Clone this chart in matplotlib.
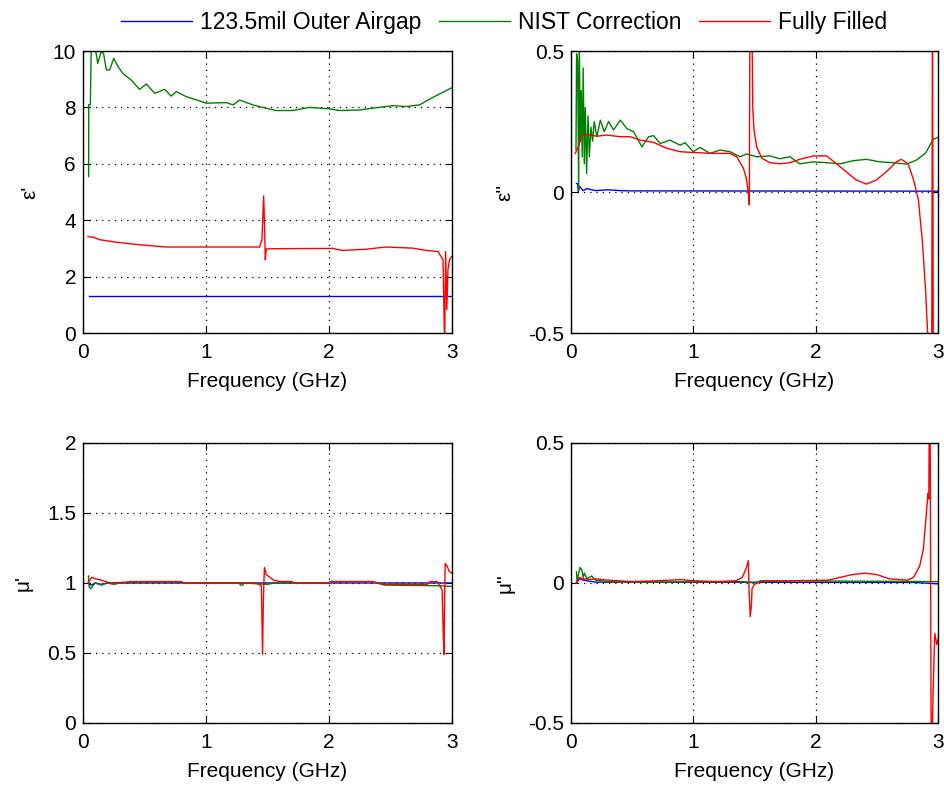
import numpy as np
import matplotlib.pyplot as plt

plt.rcParams['font.family'] = ['Liberation Sans', 'DejaVu Sans']
plt.rcParams['font.size'] = 15

# Labels
LEGEND_LABELS = ["123.5mil Outer Airgap", "NIST Correction", "Fully Filled"]
COLORS = ["#0000ff", "#008000", "#ff0000"]

# eps' (real permittivity)
ep_blue_f = [0.045, 3.0]
ep_blue_v = [1.32, 1.32]

ep_green_f = [0.046, 0.047, 0.06, 0.068, 0.108, 0.12, 0.15, 0.168, 0.19, 0.217,
              0.25, 0.285, 0.325, 0.393, 0.46, 0.515, 0.583, 0.664, 0.718, 0.759,
              0.84, 0.948, 1.0, 1.165, 1.22, 1.274, 1.38, 1.49, 1.57, 1.707,
              1.84, 2.005, 2.087, 2.25, 2.385, 2.52, 2.63, 2.737, 2.846, 3.0]
ep_green_v = [5.55, 8.1, 8.1, 10.4, 9.9, 9.56, 10.0, 9.9, 9.33, 9.33,
              9.74, 9.45, 9.2, 8.97, 8.64, 8.83, 8.5, 8.64, 8.4, 8.56,
              8.38, 8.23, 8.15, 8.17, 8.09, 8.26, 8.09, 7.97, 7.89, 7.89,
              8.0, 7.95, 7.89, 7.91, 7.99, 8.06, 8.03, 8.09, 8.36, 8.7]

ep_red_f = [0.04, 0.08, 0.136, 0.27, 0.46, 0.678, 0.95, 1.436, 1.455, 1.469,
            1.477, 1.482, 1.49, 1.545, 2.03, 2.11, 2.3, 2.46, 2.68, 2.79,
            2.886, 2.927, 2.94, 2.948, 2.958, 2.967, 2.98, 3.0]
ep_red_v = [3.42, 3.4, 3.31, 3.22, 3.13, 3.05, 3.05, 3.05, 3.31, 4.86,
            3.66, 2.6, 2.98, 2.99, 3.0, 2.93, 2.97, 3.05, 3.01, 2.93,
            2.89, 2.6, -0.5, 2.89, 0.83, 2.24, 2.6, 2.72]

# eps'' (imaginary permittivity)
epp_blue_f = [0.045, 0.055, 0.06, 0.07, 0.1, 0.13, 0.2, 0.3, 0.4, 0.5, 3.0]
epp_blue_v = [0.03, 0.03, 0.0, 0.02, 0.005, 0.012, 0.005, 0.008, 0.005, 0.004, 0.003]

epp_green_f = [0.041, 0.046, 0.054, 0.063, 0.068, 0.076, 0.084, 0.092, 0.1, 0.109,
               0.117, 0.128, 0.139, 0.15, 0.163, 0.177, 0.19, 0.212, 0.24, 0.272,
               0.307, 0.348, 0.403, 0.457, 0.511, 0.58, 0.634, 0.675, 0.729, 0.81,
               0.892, 0.933, 1.0, 1.055, 1.137, 1.218, 1.3, 1.382, 1.436, 1.518,
               1.627, 1.708, 1.79, 1.87, 1.98, 2.09, 2.2, 2.306, 2.415, 2.524,
               2.633, 2.742, 2.823, 2.9, 2.96, 3.0]
epp_green_v = [0.15, 0.49, 0.47, 0.007, 0.55, 0.18, 0.36, 0.125, 0.44, 0.10,
               0.30, 0.066, 0.27, 0.125, 0.23, 0.18, 0.25, 0.196, 0.255, 0.214,
               0.25, 0.22, 0.255, 0.225, 0.214, 0.16, 0.196, 0.2, 0.172, 0.184,
               0.166, 0.175, 0.143, 0.158, 0.137, 0.149, 0.143, 0.125, 0.135, 0.125,
               0.128, 0.118, 0.125, 0.10, 0.107, 0.104, 0.10, 0.111, 0.116, 0.107,
               0.104, 0.099, 0.113, 0.139, 0.187, 0.194]

epp_red_f = [0.035, 0.063, 0.09, 0.13, 0.212, 0.294, 0.403, 0.484, 0.566, 0.675,
             0.783, 0.892, 1.0, 1.164, 1.3, 1.355, 1.41, 1.436, 1.45, 1.458,
             1.463, 1.477, 1.486, 1.496, 1.518, 1.56, 1.627, 1.708, 1.79, 1.87,
             1.98, 2.09, 2.17, 2.25, 2.33, 2.415, 2.497, 2.578, 2.66, 2.7,
             2.757, 2.8, 2.84, 2.873, 2.9, 2.92, 2.937, 2.948, 2.955, 2.962]
epp_red_v = [0.137, 0.163, 0.202, 0.204, 0.198, 0.202, 0.196, 0.196, 0.184, 0.176,
             0.155, 0.143, 0.14, 0.137, 0.137, 0.125, 0.084, 0.043, -0.005, -0.046,
             0.7, 0.7, 0.30, 0.22, 0.16, 0.12, 0.104, 0.10, 0.104, 0.116,
             0.128, 0.128, 0.10, 0.072, 0.043, 0.028, 0.043, 0.072, 0.107, 0.116,
             0.099, 0.043, -0.028, -0.18, -0.36, -0.55, -0.7, -0.7, 0.7, -0.7]

# mu' (real permeability)
mp_blue_f = [0.045, 0.06, 0.08, 0.1, 0.15, 0.2, 3.0]
mp_blue_v = [1.0, 0.985, 0.99, 1.0, 0.99, 1.0, 1.0]

mp_green_f = [0.045, 0.05, 0.065, 0.08, 0.1, 0.15, 0.2, 0.25, 0.3, 0.4,
              0.8, 0.82, 1.27, 1.28, 1.3, 1.31, 1.5, 1.55, 2.0, 2.01,
              2.35, 2.45, 2.9, 3.0]
mp_green_v = [1.05, 0.97, 0.96, 0.98, 1.0, 0.985, 1.0, 0.99, 1.0, 1.005,
              1.005, 1.0, 1.0, 0.985, 0.985, 1.0, 0.99, 1.0, 1.0, 1.01,
              1.01, 0.985, 0.98, 0.975]

mp_red_f = [0.04, 0.07, 0.1, 0.15, 0.2, 0.25, 0.4, 0.8, 0.82, 1.4,
            1.43, 1.45, 1.46, 1.465, 1.47, 1.475, 1.49, 1.52, 1.55, 1.6,
            1.7, 1.72, 2.0, 2.01, 2.35, 2.45, 2.8, 2.82, 2.88, 2.9,
            2.92, 2.93, 2.935, 2.94, 2.945, 2.96, 2.98, 3.0]
mp_red_v = [1.0, 1.04, 1.03, 1.02, 1.005, 1.0, 1.01, 1.01, 1.0, 1.0,
            0.99, 0.98, 0.49, 0.8, 0.98, 1.11, 1.06, 1.04, 1.02, 1.01,
            1.01, 1.0, 1.0, 1.01, 1.01, 0.99, 0.99, 1.01, 1.01, 0.98,
            0.95, 0.6, 0.49, 0.9, 1.14, 1.12, 1.08, 1.07]

# mu'' (imaginary permeability)
mpp_blue_f = [0.045, 0.07, 0.1, 0.2, 2.8, 3.0]
mpp_blue_v = [0.0, 0.015, 0.01, 0.003, 0.002, -0.003]

mpp_green_f = [0.045, 0.05, 0.06, 0.075, 0.09, 0.1, 0.11, 0.13, 0.15, 0.17,
               0.2, 0.3, 0.5, 1.4, 1.5, 1.55, 3.0]
mpp_green_v = [0.04, 0.0, 0.03, 0.055, 0.045, 0.02, 0.035, 0.015, 0.02, 0.025,
               0.01, 0.005, 0.003, 0.005, 0.0, 0.008, 0.005]

mpp_red_f = [0.04, 0.07, 0.1, 0.15, 0.2, 0.3, 0.5, 0.7, 0.9, 1.0,
             1.2, 1.35, 1.4, 1.43, 1.45, 1.455, 1.465, 1.475, 1.48, 1.5,
             1.55, 1.8, 2.1, 2.2, 2.3, 2.4, 2.5, 2.6, 2.75, 2.8,
             2.85, 2.88, 2.905, 2.918, 2.925, 2.93, 2.935, 2.945, 2.96, 2.973,
             2.99, 3.0]
mpp_red_v = [0.0, 0.02, 0.015, 0.012, 0.015, 0.01, 0.005, 0.008, 0.012, 0.008,
             0.005, 0.008, 0.02, 0.05, 0.08, -0.02, -0.12, -0.08, -0.02, -0.005,
             0.005, 0.008, 0.01, 0.02, 0.03, 0.035, 0.03, 0.015, 0.01, 0.02,
             0.06, 0.12, 0.25, 0.32, 0.3, 0.7, 0.7, -0.7, -0.39, -0.18,
             -0.22, -0.2]

panels = [
    ("ε'", (0, 10), [0, 2, 4, 6, 8, 10], ["0", "2", "4", "6", "8", "10"],
     [(ep_blue_f, ep_blue_v), (ep_green_f, ep_green_v), (ep_red_f, ep_red_v)]),
    ("ε''", (-0.5, 0.5), [-0.5, 0, 0.5], ["-0.5", "0", "0.5"],
     [(epp_blue_f, epp_blue_v), (epp_green_f, epp_green_v), (epp_red_f, epp_red_v)]),
    ("μ'", (0, 2), [0, 0.5, 1, 1.5, 2], ["0", "0.5", "1", "1.5", "2"],
     [(mp_blue_f, mp_blue_v), (mp_green_f, mp_green_v), (mp_red_f, mp_red_v)]),
    ("μ''", (-0.5, 0.5), [-0.5, 0, 0.5], ["-0.5", "0", "0.5"],
     [(mpp_blue_f, mpp_blue_v), (mpp_green_f, mpp_green_v), (mpp_red_f, mpp_red_v)]),
]

positions = [
    [0.0878, 0.5763, 0.3905, 0.3588],
    [0.6042, 0.5763, 0.3884, 0.3588],
    [0.0878, 0.0802, 0.3905, 0.3562],
    [0.6042, 0.0802, 0.3884, 0.3562],
]

fig = plt.figure(figsize=(9.45, 7.86), dpi=100)

handles = []
for i, (ylab, ylim, yticks, ylabels, series) in enumerate(panels):
    ax = fig.add_axes(positions[i])
    for (f, v), c, lab in zip(series, COLORS, LEGEND_LABELS):
        line, = ax.plot(f, v, color=c, linewidth=1.0, label=lab)
        if i == 0:
            handles.append(line)
    ax.set_xlim(0, 3)
    ax.set_ylim(*ylim)
    ax.set_xticks([0, 1, 2, 3])
    ax.set_xticklabels(["0", "1", "2", "3"])
    ax.set_yticks(yticks)
    ax.set_yticklabels(ylabels)
    ax.tick_params(direction="in", length=5, top=True, right=True, labelsize=15)
    ax.tick_params(axis="x", pad=7.5)
    ax.tick_params(axis="y", pad=5)
    ax.grid(True, color="black", linestyle=(0, (1, 4)), linewidth=0.9)
    for sp in ax.spines.values():
        sp.set_linewidth(1.0)
    ax.set_xlabel("Frequency (GHz)", fontsize=15, labelpad=7)
    ax.set_ylabel(ylab, fontsize=15, labelpad=10)

fig.legend(handles, LEGEND_LABELS, loc="upper center", bbox_to_anchor=(0.5333, 1.012),
           ncol=3, frameon=False, handlelength=3.1, handletextpad=0.35,
           columnspacing=0.75, fontsize=16.5)

plt.savefig("out.png", dpi=100)
